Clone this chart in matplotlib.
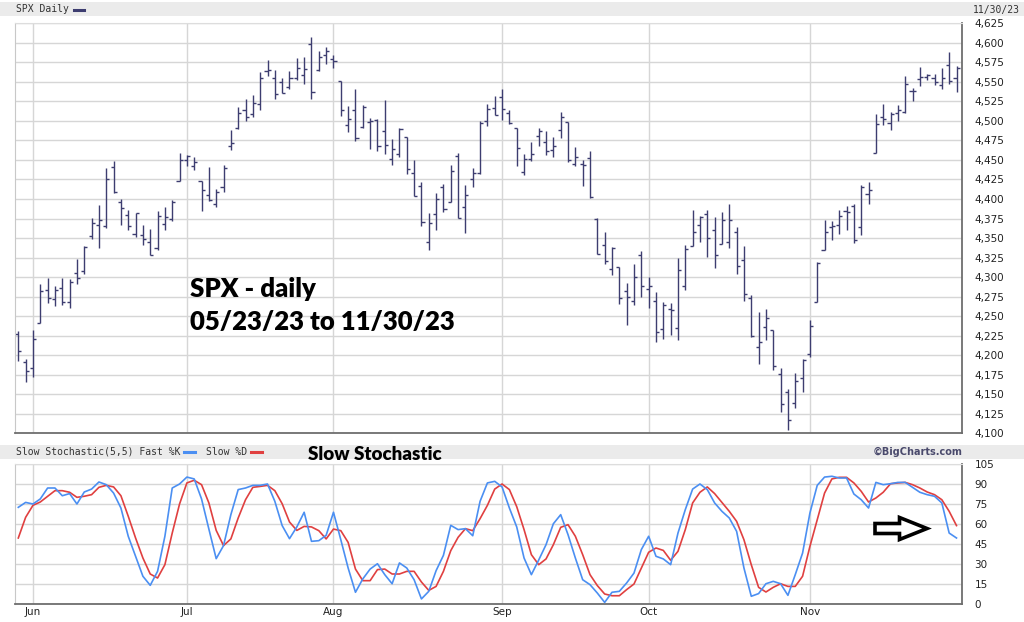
import matplotlib
matplotlib.use("Agg")
import matplotlib.pyplot as plt
import numpy as np
import pandas as pd
from matplotlib.lines import Line2D
from matplotlib.patches import Polygon, Rectangle
from matplotlib.ticker import FuncFormatter

# Trading days 05/30/23 .. 11/30/23 (NYSE holidays removed)
HOLIDAYS = ["2023-05-29", "2023-06-19", "2023-07-04", "2023-09-04", "2023-11-23"]
dates = pd.bdate_range("2023-05-30", "2023-11-30", freq="C", holidays=HOLIDAYS)

opens = [
    4226.71, 4190.74,
    4183.03, 4241.01, 4282.99, 4271.34, 4285.47, 4268.69, 4304.88, 4308.32, 4352.61, 4366.29, 4365.33,
    4440.95, 4396.11, 4380.01, 4355.40, 4354.17, 4344.84, 4337.36, 4367.48, 4374.94, 4422.44,
    4450.48, 4442.04, 4422.62, 4404.54, 4394.23, 4415.55, 4467.69, 4491.50, 4514.61, 4508.86, 4521.78,
    4563.87, 4554.38, 4550.16, 4543.39, 4555.19, 4558.96, 4598.26, 4565.75, 4584.82,
    4578.83, 4550.93, 4494.27, 4513.96, 4491.58, 4498.03, 4501.57, 4487.16, 4450.69, 4458.13, 4478.87,
    4433.79, 4416.32, 4344.88, 4380.28, 4415.33, 4396.44, 4455.16, 4389.38, 4426.03, 4432.75, 4500.34, 4517.01,
    4530.60, 4510.06, 4490.35, 4434.55, 4451.30, 4480.98, 4473.27, 4462.65, 4487.78, 4497.98, 4445.13,
    4445.41, 4452.81, 4374.36, 4341.74, 4310.62, 4312.88, 4282.63, 4269.65, 4328.18,
    4284.52, 4269.75, 4233.83, 4259.31, 4234.79, 4289.02, 4339.75, 4366.59, 4380.94, 4360.49, 4342.37,
    4345.23, 4357.35, 4321.36, 4273.85, 4210.40, 4235.79, 4232.42, 4175.99, 4152.93, 4139.39, 4171.33,
    4201.27, 4268.26, 4334.23, 4364.27, 4366.21, 4384.37, 4391.41, 4364.15, 4406.66, 4458.97, 4505.30,
    4497.08, 4509.55, 4511.70, 4538.77, 4553.04, 4555.84, 4554.86, 4545.55, 4571.84, 4554.87,
]
highs = [
    4231.10, 4195.44,
    4232.43, 4290.67, 4299.28, 4288.33, 4299.19, 4298.01, 4322.62, 4340.13, 4375.37, 4391.82, 4439.20,
    4448.47, 4400.15, 4386.22, 4382.25, 4366.55, 4362.06, 4384.42, 4390.35, 4398.39, 4458.48,
    4456.46, 4454.06, 4422.62, 4440.39, 4412.60, 4443.64, 4488.34, 4517.38, 4527.76, 4532.85, 4562.30,
    4578.43, 4564.74, 4555.00, 4563.41, 4580.62, 4582.47, 4607.07, 4590.16, 4594.22,
    4584.62, 4550.93, 4519.49, 4540.34, 4519.84, 4503.31, 4502.44, 4527.37, 4476.23, 4490.33, 4478.87,
    4449.95, 4421.17, 4381.82, 4407.55, 4418.59, 4443.18, 4458.30, 4418.46, 4439.56, 4500.14, 4521.65, 4532.26,
    4541.25, 4514.29, 4490.35, 4457.81, 4473.53, 4490.77, 4487.11, 4479.39, 4511.99, 4497.98, 4466.36,
    4449.85, 4461.03, 4375.70, 4357.40, 4338.51, 4313.01, 4292.07, 4317.27, 4333.15,
    4300.58, 4281.15, 4268.50, 4267.13, 4324.10, 4341.73, 4385.46, 4378.64, 4385.85, 4377.10, 4383.33,
    4393.57, 4364.20, 4339.54, 4276.56, 4255.84, 4259.38, 4232.42, 4183.60, 4156.70, 4177.47, 4195.55,
    4245.64, 4319.72, 4373.62, 4372.21, 4386.26, 4391.20, 4393.40, 4418.03, 4421.76, 4508.67, 4521.17,
    4511.99, 4520.12, 4557.11, 4542.14, 4568.43, 4560.31, 4560.52, 4568.14, 4587.64, 4569.89,
]
lows = [
    4192.18, 4166.15,
    4171.64, 4241.01, 4266.82, 4263.09, 4263.96, 4261.07, 4291.70, 4304.37, 4349.31, 4337.85, 4362.60,
    4407.44, 4367.19, 4360.14, 4351.82, 4341.34, 4328.08, 4335.00, 4360.22, 4371.97, 4422.44,
    4442.29, 4436.61, 4385.05, 4397.40, 4389.92, 4408.46, 4463.23, 4489.36, 4499.56, 4504.90, 4514.59,
    4557.48, 4527.56, 4535.79, 4541.29, 4552.42, 4547.58, 4528.56, 4564.01, 4573.14,
    4567.53, 4505.75, 4485.54, 4474.55, 4491.15, 4464.39, 4461.33, 4457.92, 4443.98, 4453.44, 4432.19,
    4403.55, 4364.83, 4335.31, 4360.30, 4382.77, 4396.44, 4375.55, 4356.29, 4414.98, 4431.68, 4493.59, 4507.39,
    4501.35, 4496.01, 4442.38, 4430.46, 4448.38, 4467.89, 4456.83, 4453.52, 4478.69, 4447.21, 4442.11,
    4416.61, 4401.38, 4329.17, 4316.49, 4302.70, 4265.98, 4238.63, 4264.38, 4274.86,
    4260.21, 4216.45, 4220.48, 4225.91, 4219.55, 4283.79, 4339.64, 4345.34, 4325.43, 4311.97, 4342.37,
    4337.54, 4303.84, 4269.69, 4223.03, 4189.22, 4219.43, 4181.42, 4127.90, 4103.78, 4132.94, 4153.12,
    4197.74, 4268.26, 4334.23, 4347.53, 4355.41, 4359.76, 4343.94, 4353.34, 4393.82, 4458.97, 4495.31,
    4487.83, 4499.66, 4510.36, 4525.51, 4545.05, 4552.80, 4546.32, 4540.51, 4547.15, 4537.24,
]
closes = [
    4205.52, 4179.83,
    4221.02, 4282.37, 4273.79, 4283.85, 4267.52, 4293.93, 4298.86, 4338.93, 4369.01, 4372.59, 4425.84,
    4409.59, 4388.71, 4365.69, 4381.89, 4348.33, 4328.82, 4378.41, 4376.86, 4396.44, 4450.38,
    4455.59, 4446.82, 4411.59, 4398.95, 4409.53, 4439.26, 4472.16, 4510.04, 4505.42, 4522.79, 4554.98,
    4565.72, 4534.87, 4536.34, 4554.64, 4567.46, 4566.75, 4537.41, 4582.23, 4588.96,
    4576.73, 4513.39, 4501.89, 4478.03, 4518.44, 4499.38, 4467.71, 4468.83, 4464.05, 4489.72, 4437.86,
    4404.33, 4370.36, 4369.71, 4399.77, 4387.55, 4436.01, 4376.31, 4405.71, 4433.31, 4497.63, 4514.87, 4507.66,
    4515.77, 4496.83, 4465.48, 4451.14, 4457.49, 4487.46, 4461.90, 4467.44, 4505.10, 4450.32, 4453.53,
    4443.95, 4402.20, 4330.00, 4320.06, 4337.44, 4273.53, 4274.51, 4299.70, 4288.05,
    4288.39, 4229.45, 4263.75, 4258.19, 4308.50, 4335.66, 4358.24, 4376.95, 4349.61, 4327.78, 4373.63,
    4373.20, 4314.60, 4278.00, 4224.16, 4217.04, 4247.68, 4186.77, 4137.23, 4117.37, 4166.82, 4193.80,
    4237.86, 4317.78, 4358.34, 4365.98, 4378.38, 4382.78, 4347.35, 4415.24, 4411.55, 4495.70, 4502.88,
    4508.24, 4514.02, 4547.38, 4538.19, 4556.62, 4559.34, 4550.43, 4554.89, 4550.58, 4567.80,
]

# Slow Stochastic(5,5)
fast_k = [
    72.5, 76.2, 75, 78.8, 87, 87, 81.2, 82.8, 75, 84,
    86.2, 91.5, 89.5, 83.2, 72, 50.8, 35.8, 20.8, 14, 24.5,
    50.8, 87, 90, 95.2, 93.8, 78.8, 56.2, 34, 43.8, 67,
    85.8, 87, 89, 89, 90, 77, 58.8, 49, 57.8, 68.8,
    47, 47.5, 51.5, 68.8, 48.2, 27, 8.8, 18.8, 26.2, 30.2,
    22, 15.2, 30.8, 27, 18.2, 3.8, 9.5, 25, 36.5, 59,
    55.8, 56.5, 51.2, 77, 90.8, 92, 87.8, 72, 57.8, 34.5,
    22, 33, 44.5, 60.2, 67, 52, 34.5, 18.2, 14.5, 8.2,
    1.2, 8.8, 9.5, 15.8, 23.2, 40.8, 50.8, 35.8, 33.8, 29.5,
    53.2, 70.8, 86.2, 90, 85.8, 75.8, 69.5, 64.5, 54.5, 27,
    5.8, 7.8, 15.2, 17, 15.2, 6.5, 22, 38.2, 68.2, 89,
    95.2, 95.8, 94.5, 94.5, 82.5, 78.2, 72, 91.2, 89.5, 90.2,
    91.2, 91.2, 87.5, 83.8, 82, 80.8, 75.8, 53.2, 49.5,
]
slow_d = [
    49.5, 65, 74, 76.5, 80.8, 85, 85, 83.8, 80, 80.8,
    82, 87.5, 89, 87.8, 81.2, 65.8, 49.5, 34.5, 22.5, 19.5,
    29.5, 53.2, 75, 90.8, 92.8, 89.5, 75.8, 55.2, 43.8, 48.8,
    64.5, 78.2, 87.5, 88.2, 89, 85, 75.2, 61.5, 55.2, 58.2,
    57.8, 55, 48.8, 56.2, 55, 46.2, 26.2, 17.5, 17.5, 25.8,
    26.2, 22.5, 22.5, 24.5, 24.5, 16.5, 10.2, 13.2, 24.5, 40,
    50, 56.5, 55, 64, 74, 86.2, 90, 85.8, 73, 55.8,
    37, 29.5, 33.8, 44.5, 57.5, 59.5, 50.8, 37, 22, 13.8,
    7.5, 6.2, 6.2, 10.8, 15, 27, 38.8, 42, 40.2, 32.8,
    39.5, 55.8, 75.8, 83.8, 87.8, 82.8, 76.2, 69.5, 62, 48.2,
    29.5, 12.5, 9, 12.5, 15.2, 13.2, 13.2, 20.8, 43.2, 63.2,
    83.2, 93.8, 95, 95, 90.8, 84.5, 76.5, 79.5, 83.8, 90.2,
    90.8, 91.2, 89.5, 87, 84, 82, 78.2, 69.5, 58.8,
]

BAR = "#3d3d70"
GRID = "#d6d6d6"
BAND = "#ebebeb"
BLUE = "#4b8ff2"
RED = "#e04040"
MONO = "DejaVu Sans Mono"

W, H = 1024, 622


def fx(x):
    return x / W


def fy(y):
    return 1 - y / H


x = np.arange(len(dates))
month_pos = [i for i in range(1, len(dates)) if dates[i].month != dates[i - 1].month]
month_lab = [dates[i].strftime("%b") for i in month_pos]

fig = plt.figure(figsize=(W / 100, H / 100), dpi=100)
fig.patch.set_facecolor("white")

# header bands
for y0, y1 in [(2, 16), (445, 459)]:
    fig.add_artist(Rectangle((0, fy(y1)), 1, (y1 - y0) / H, transform=fig.transFigure,
                             facecolor=BAND, edgecolor="none", zorder=0))


def style_axes(ax):
    ax.set_facecolor("white")
    ax.set_axisbelow(True)
    ax.grid(True, color=GRID, lw=1.0)
    ax.spines["left"].set_color("#c8c8c8")
    ax.spines["top"].set_color("#dddddd")
    ax.spines["right"].set_color("#6e6e6e")
    ax.spines["bottom"].set_color("#6e6e6e")
    ax.spines["right"].set_linewidth(1.3)
    ax.spines["bottom"].set_linewidth(1.3)
    ax.yaxis.tick_right()
    ax.tick_params(axis="y", length=0, pad=9, labelsize=7.5, labelcolor="#222222")
    ax.tick_params(axis="x", length=0)
    ax.set_xlim(-0.45, 128.75)
    ax.set_xticks(month_pos)


# ---- price panel ----
ax1 = fig.add_axes([fx(15), fy(433.3), fx(947), (433.3 - 23.3) / H])
style_axes(ax1)
ax1.set_ylim(4100, 4625)
ax1.set_yticks(np.arange(4100, 4626, 25))
ax1.yaxis.set_major_formatter(FuncFormatter(lambda v, p: f"{v:,.0f}"))
ax1.set_xticklabels([])
ax1.vlines(x, lows, highs, color=BAR, lw=1.0)
ax1.hlines(opens, x - 0.42, x, color=BAR, lw=1.0)
ax1.hlines(closes, x, x + 0.42, color=BAR, lw=1.0)

# ---- stochastic panel ----
ax2 = fig.add_axes([fx(15), fy(604), fx(947), 140 / H])
style_axes(ax2)
ax2.set_ylim(0, 105)
ax2.set_yticks(np.arange(0, 106, 15))
ax2.set_xticklabels(month_lab, fontsize=7.5, color="#222222")
ax2.tick_params(axis="x", pad=2)
ax2.plot(x, slow_d, color=RED, lw=1.2, zorder=3)
ax2.plot(x, fast_k, color=BLUE, lw=1.2, zorder=4)

# outlined arrow in the stochastic panel (pixel outline -> axes fraction)
arrow_px = [(875, 523.5), (899.5, 523.5), (899.5, 517.5), (927, 528.5),
            (899.5, 539.5), (899.5, 533.5), (875, 533.5)]
arrow_ax = [((px - 15) / 947, (604 - py) / 140) for px, py in arrow_px]
ax2.add_patch(Polygon(arrow_ax, closed=True, transform=ax2.transAxes,
                      facecolor="white", edgecolor="black", lw=2.6, joinstyle="miter", zorder=5))

# ---- header texts ----
fig.text(fx(16), fy(9.5), "SPX Daily", family=MONO, fontsize=7, color="#333333", va="center")
fig.add_artist(Line2D([fx(74), fx(84)], [fy(9.5), fy(9.5)], color=BAR, lw=2.2))
fig.text(fx(973), fy(9.5), "11/30/23", family=MONO, fontsize=7, color="#333333", va="center")

fig.text(fx(16.5), fy(452), "Slow Stochastic(5,5) Fast %K", family=MONO, fontsize=7,
         color="#333333", va="center")
fig.add_artist(Line2D([fx(184), fx(195)], [fy(452), fy(452)], color=BLUE, lw=2.2))
fig.text(fx(205.5), fy(452), "Slow %D", family=MONO, fontsize=7, color="#333333", va="center")
fig.add_artist(Line2D([fx(250.5), fx(261.5)], [fy(452), fy(452)], color=RED, lw=2.2))
fig.text(fx(962), fy(452), "\u00a9BigCharts.com", fontsize=7, fontweight="bold",
         color="#4a4a6c", ha="right", va="center")

fig.text(fx(308), fy(460), "Slow Stochastic", family="Lato", fontsize=13.5, fontweight="heavy",
         color="black", va="baseline")

# annotation inside the price panel
fig.text(fx(190), fy(297), "SPX - daily", family="Lato", fontsize=18.5, fontweight="heavy",
         color="black", va="baseline")
fig.text(fx(190), fy(330), "05/23/23 to 11/30/23", family="Lato", fontsize=18.5,
         fontweight="heavy", color="black", va="baseline")

fig.savefig("out.png", dpi=100)
